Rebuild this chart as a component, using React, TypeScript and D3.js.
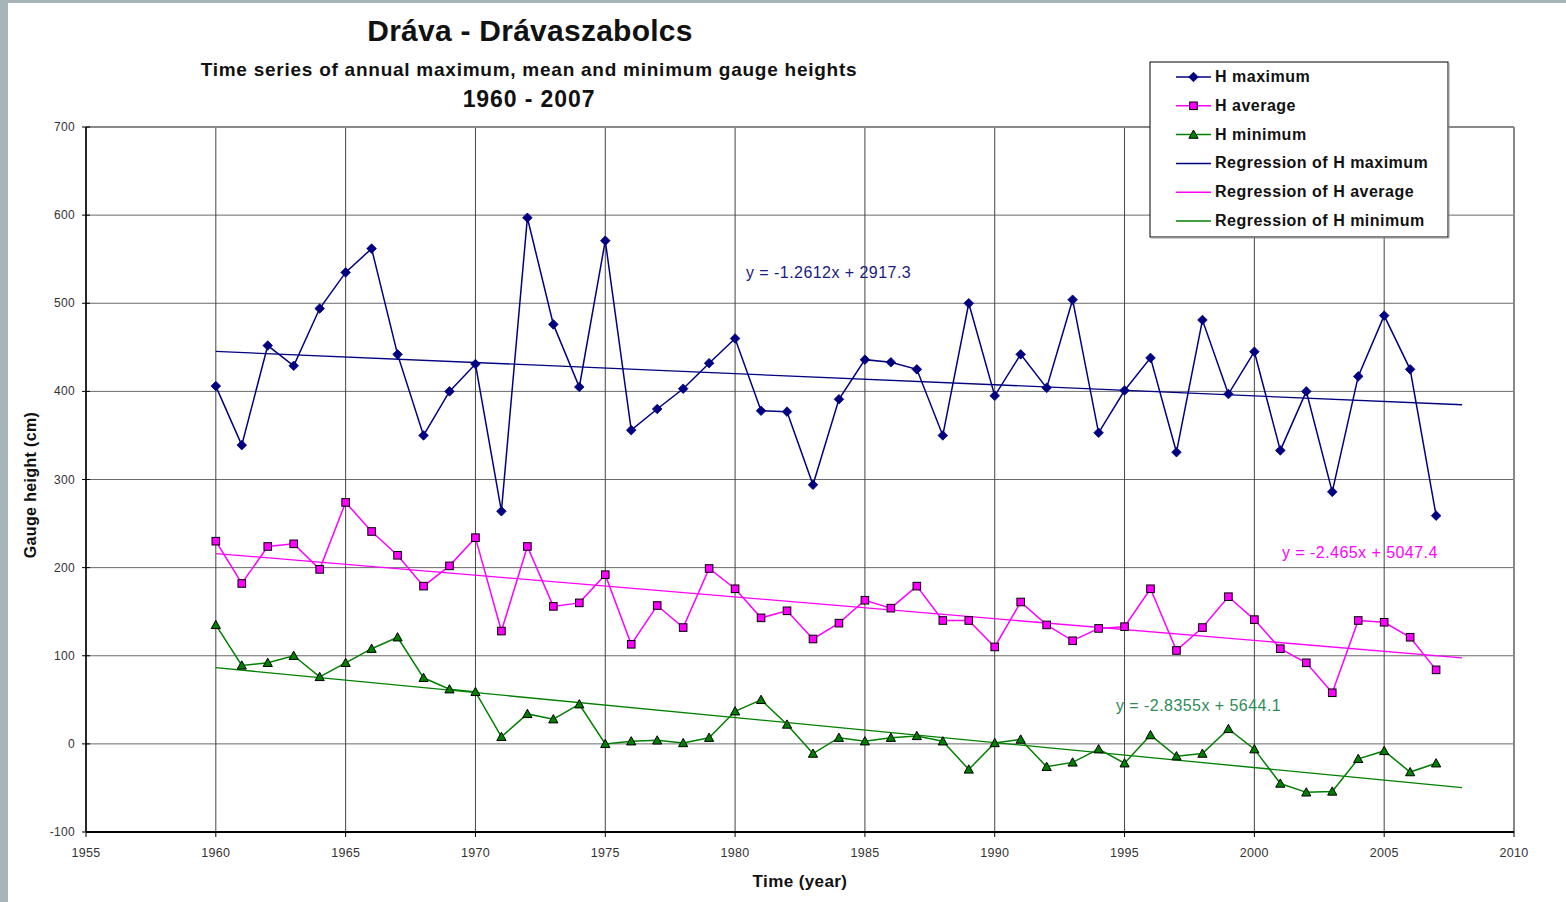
import React from "react";
import * as d3 from "d3";

const years: number[] = [1960,1961,1962,1963,1964,1965,1966,1967,1968,1969,1970,1971,1972,1973,1974,1975,1976,1977,1978,1979,1980,1981,1982,1983,1984,1985,1986,1987,1988,1989,1990,1991,1992,1993,1994,1995,1996,1997,1998,1999,2000,2001,2002,2003,2004,2005,2006,2007];

const hMax: number[] = [406,339,452,429,494,535,562,442,350,400,431,264,597,476,405,571,356,380,403,432,460,378,377,294,391,436,433,425,350,500,395,442,404,504,353,401,438,331,481,397,445,333,400,286,417,486,425,259];

const hAvg: number[] = [230,182,224,227,198,274,241,214,179,202,234,128,224,156,160,192,113,157,132,199,176,143,151,119,137,163,154,179,140,140,110,161,135,117,131,133,176,106,132,167,141,108,92,58,140,138,121,84];

const hMin: number[] = [135,89,92,100,76,92,108,121,75,62,59,8,34,28,45,0,3,4,1,7,37,50,22,-11,7,3,7,9,3,-29,1,5,-26,-21,-6,-22,10,-14,-11,17,-6,-45,-55,-54,-17,-8,-32,-22];

// Regression (slope, intercept) as printed on the chart
const regSlopes: number[] = [-1.2612, -2.465, -2.8355];
const regIntercepts: number[] = [2917.3, 5047.4, 5644.1];
const regYears: number[] = [1960, 2008];
const eqLabels: string[] = ["y = -1.2612x + 2917.3", "y = -2.465x + 5047.4", "y = -2.8355x + 5644.1"];

const xTicks: number[] = [1955,1960,1965,1970,1975,1980,1985,1990,1995,2000,2005,2010];
const yTicks: number[] = [-100,0,100,200,300,400,500,600,700];

const legendLabels: string[] = ["H maximum","H average","H minimum","Regression of H maximum","Regression of H average","Regression of H minimum"];

const W = 1566, H = 902;
const PL = 86, PR = 1514, PT = 127, PB = 832;

const NAVY = "#000080";
const MAG = "#ff00ff";
const GREEN = "#008000";
const FONT = "'Liberation Sans', Arial, sans-serif";

function Marker({ kind, x, y, color }: { kind: string; x: number; y: number; color: string }) {
  if (kind === "diamond") {
    const s = 4.8;
    return <path d={`M${x},${y - s}L${x + s},${y}L${x},${y + s}L${x - s},${y}Z`} fill={color} stroke={color} strokeWidth={0.8} />;
  }
  if (kind === "square") {
    const s = 3.8;
    return <rect x={x - s} y={y - s} width={2 * s} height={2 * s} fill={color} stroke="#000" strokeWidth={1} />;
  }
  const s = 4.6;
  return <path d={`M${x},${y - s}L${x + s},${y + s * 0.8}L${x - s},${y + s * 0.8}Z`} fill={color} stroke="#000" strokeWidth={1} />;
}

export default function App() {
  const x = d3.scaleLinear().domain([1955, 2010]).range([PL, PR]);
  const y = d3.scaleLinear().domain([-100, 700]).range([PB, PT]);
  const line = d3.line<[number, number]>().x(d => x(d[0])).y(d => y(d[1]));

  const series = [
    { vals: hMax, color: NAVY, kind: "diamond" },
    { vals: hAvg, color: MAG, kind: "square" },
    { vals: hMin, color: GREEN, kind: "triangle" },
  ];
  const eqPos = [
    { x: 746, y: 278, color: "#1a1a80" },
    { x: 1282, y: 558, color: MAG },
    { x: 1116, y: 711, color: "#2e8b57" },
  ];

  const legX = 1150, legY = 62, legW = 298, legH = 175;

  return (
    <svg width={W} height={H} style={{ position: "fixed", left: 0, top: 0, background: "#fff" }} fontFamily={FONT}>
      <rect x={0} y={0} width={W} height={H} fill="#fff" />
      <rect x={0} y={0} width={W} height={3} fill="#a7b5b9" />
      <rect x={0} y={0} width={8} height={H} fill="#a7b5b9" />

      {/* titles */}
      <text x={530} y={41} textAnchor="middle" fontSize={30} fontWeight="bold" letterSpacing={0.25} fill="#111">Dráva - Drávaszabolcs</text>
      <text x={529} y={76} textAnchor="middle" fontSize={19} fontWeight="bold" letterSpacing={0.75} fill="#111">Time series of annual maximum, mean and minimum gauge heights</text>
      <text x={529} y={107} textAnchor="middle" fontSize={23} fontWeight="bold" letterSpacing={0.9} fill="#111">1960 - 2007</text>

      {/* grid */}
      {yTicks.map(t => (
        <line key={"hy" + t} x1={PL} x2={PR} y1={y(t)} y2={y(t)} stroke="#6a6a6a" strokeWidth={1} />
      ))}
      {xTicks.map(t => (
        <line key={"vx" + t} x1={x(t)} x2={x(t)} y1={PT} y2={PB} stroke="#444" strokeWidth={1} />
      ))}
      <line x1={PL} x2={PR} y1={PT} y2={PT} stroke="#888" strokeWidth={2} />
      <line x1={PR} x2={PR} y1={PT} y2={PB} stroke="#888" strokeWidth={2} />
      <line x1={PL} x2={PL} y1={PT} y2={PB} stroke="#000" strokeWidth={1.5} />
      <line x1={PL} x2={PR} y1={PB} y2={PB} stroke="#000" strokeWidth={2} />

      {/* ticks */}
      {yTicks.map(t => (
        <g key={"ty" + t}>
          <line x1={PL - 4} x2={PL + 4} y1={y(t)} y2={y(t)} stroke="#000" />
          <text x={PL - 11} y={y(t) + 4} textAnchor="end" fontSize={12} letterSpacing={0.3} fill="#333">{t}</text>
        </g>
      ))}
      {xTicks.map(t => (
        <g key={"tx" + t}>
          <line x1={x(t)} x2={x(t)} y1={PB} y2={PB + 5} stroke="#000" />
          <text x={x(t)} y={PB + 25} textAnchor="middle" fontSize={12.5} letterSpacing={0.3} fill="#333">{t}</text>
        </g>
      ))}

      <text x={800} y={887} textAnchor="middle" fontSize={17} fontWeight="bold" letterSpacing={0.4} fill="#111">Time (year)</text>
      <text transform={`translate(36,485) rotate(-90)`} textAnchor="middle" fontSize={16} fontWeight="bold" letterSpacing={0.35} fill="#111">Gauge height (cm)</text>

      {/* regression lines */}
      {series.map((s, i) => (
        <path key={"reg" + i}
          d={line(regYears.map(yr => [yr, regSlopes[i] * yr + regIntercepts[i]] as [number, number])) || ""}
          fill="none" stroke={s.color} strokeWidth={1.3} />
      ))}

      {/* data series */}
      {series.map((s, i) => (
        <g key={"s" + i}>
          <path d={line(years.map((yr, j) => [yr, s.vals[j]] as [number, number])) || ""} fill="none" stroke={s.color} strokeWidth={1.5} />
          {years.map((yr, j) => (
            <Marker key={j} kind={s.kind} x={x(yr)} y={y(s.vals[j])} color={s.color} />
          ))}
        </g>
      ))}

      {/* equations */}
      {eqLabels.map((t, i) => (
        <text key={"eq" + i} x={eqPos[i].x} y={eqPos[i].y} fontSize={16} letterSpacing={0.45} fill={eqPos[i].color}>{t}</text>
      ))}

      {/* legend */}
      <rect x={legX} y={legY} width={legW} height={legH} fill="#fff" stroke="#000" strokeWidth={1} />
      <line x1={legX + 1} x2={legX + legW + 1} y1={legY + legH + 1} y2={legY + legH + 1} stroke="#999" strokeWidth={1} />
      <line x1={legX + legW + 1} x2={legX + legW + 1} y1={legY + 1} y2={legY + legH + 1} stroke="#999" strokeWidth={1} />
      {legendLabels.map((lab, i) => {
        const ly = 76 + i * 28.8;
        const s = series[i % 3];
        return (
          <g key={"lg" + i}>
            <line x1={1176} x2={1211} y1={ly + 1} y2={ly + 1} stroke={s.color} strokeWidth={1.5} />
            {i < 3 && <Marker kind={s.kind} x={1193.5} y={ly + 1} color={s.color} />}
            <text x={1215} y={ly + 6} fontSize={16} fontWeight="bold" letterSpacing={0.5} fill="#111">{lab}</text>
          </g>
        );
      })}
    </svg>
  );
}
